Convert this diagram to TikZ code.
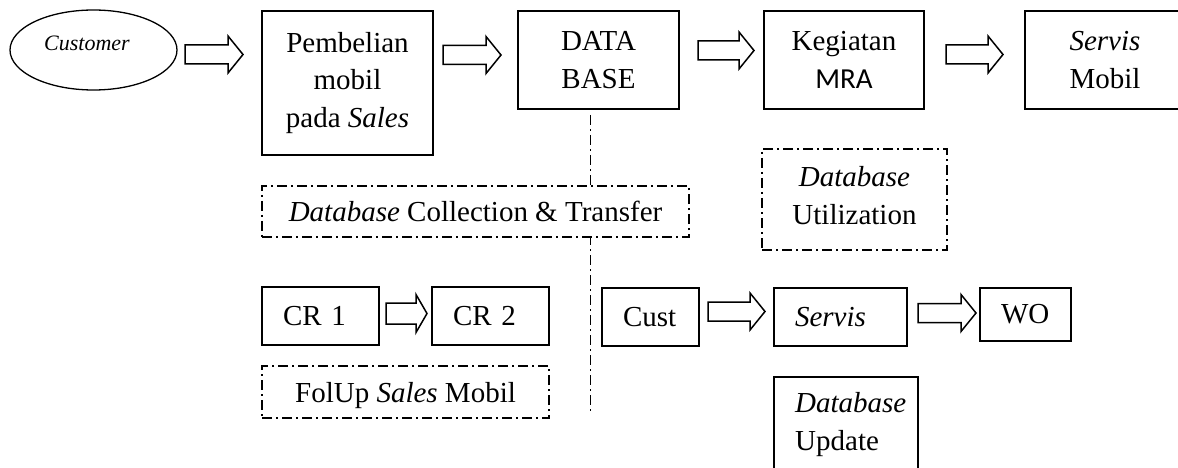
\documentclass[tikz,border=0pt]{standalone}
\usepackage{fontspec}
\setmainfont{Liberation Serif}
\newfontfamily\carlito{Carlito}
\usetikzlibrary{calc,shapes.geometric}

\newcommand\bodyfont{\fontsize{29}{37.5}\selectfont}
\newcommand\arrbody{9.5}
\newcommand\arrhead{18.5}
\newcommand\arrtip{15}

\tikzset{
  box/.style={draw, line width=1.6pt, inner sep=0pt, font=\bodyfont},
  lbox/.style={box, align=left, inner xsep=21pt},
  ddbox/.style={draw, fill=white, line width=1.4pt, inner sep=0pt, font=\bodyfont,
    dash pattern=on 10pt off 4pt on 2pt off 4pt},
  ddline/.style={line width=1.4pt, dash pattern=on 10pt off 4pt on 2pt off 4pt},
  short arrow/.code={\renewcommand\arrbody{10.5}\renewcommand\arrhead{19}\renewcommand\arrtip{11}},
  blockarrow/.style={draw, line width=1.5pt, line join=miter,
    to path={let \p1=(\tikztostart), \p2=(\tikztotarget) in
      (\x1,\y1+\arrbody pt) -- (\x2-\arrtip pt,\y1+\arrbody pt)
      -- (\x2-\arrtip pt,\y1+\arrhead pt) -- (\x2,\y1)
      -- (\x2-\arrtip pt,\y1-\arrhead pt) -- (\x2-\arrtip pt,\y1-\arrbody pt)
      -- (\x1,\y1-\arrbody pt) -- cycle}},
}

\begin{document}
\begin{tikzpicture}[x=1pt,y=-1pt]
\useasboundingbox (0,0) rectangle (1178,468);
\clip (0,0) rectangle (1178,468);

% top row
\node[ellipse, draw, line width=1.3pt, minimum width=167, minimum height=80, inner sep=0pt] (cust) at (93.5,50) {};
\node[font=\fontsize{22}{26}\selectfont\itshape] (custtext) at (87,43.5) {Customer};
\node[box, minimum width=171, minimum height=144, align=center] (pem) at (347.5,83) {Pembelian\\mobil\\pada \textit{Sales}};
\node[box, minimum width=161, minimum height=98, align=center] (db) at (598.5,60) {DATA\\BASE};
\node[box, minimum width=160, minimum height=98, align=center] (keg) at (844,60) {Kegiatan\\{\carlito MRA}};
\node[box, minimum width=160, minimum height=98, align=center] (srvm) at (1105,60) {\textit{Servis}\\Mobil};

% link down from the database
\coordinate (dbtap) at (590.5,115);
\coordinate (dbend) at (590.5,414);
\draw[ddline] (dbtap) -- (dbend);

% stage labels
\node[ddbox, minimum width=427, minimum height=51] (coll) at (475.5,211.5) {\textit{Database} Collection \& Transfer};
\node[ddbox, minimum width=185, minimum height=101, align=center, text depth=8pt] (util) at (854.5,199.5) {\textit{Database}\\Utilization};
\node[ddbox, minimum width=287, minimum height=52, text depth=0pt] (folup) at (405.5,392) {FolUp \textit{Sales} Mobil};

% lower rows
\node[lbox, minimum height=58, text width=75] (cr1) at (320.5,316) {CR 1};
\node[lbox, minimum height=58, text width=75] (cr2) at (490.5,316) {CR 2};
\node[lbox, minimum height=58, text width=55] (cst) at (650.5,317) {Cust};
\node[lbox, minimum height=58, text width=91] (srv) at (840.5,317) {\textit{Servis}};
\node[lbox, minimum height=53, text width=49] (wo) at (1025.5,314.5) {WO};
\node[box, anchor=north, minimum width=144, minimum height=120] (upd) at (846,376) {};
\node[anchor=north west, inner sep=0pt, font=\bodyfont, align=left] (updtext) at (795,392.5) {\textit{Database}\\Update};

% block arrows
\coordinate (a1s) at (185,54.5);   \coordinate (a1e) at (243,54.5);
\coordinate (a2s) at (443,55);     \coordinate (a2e) at (501,55);
\coordinate (a3s) at (698,50.5);   \coordinate (a3e) at (754,50.5);
\coordinate (a4s) at (946,54.5);   \coordinate (a4e) at (1003,54.5);
\coordinate (a5s) at (386,313.5);  \coordinate (a5e) at (427,313.5);
\coordinate (a6s) at (708,311.5);  \coordinate (a6e) at (765,311.5);
\coordinate (a7s) at (918,313);    \coordinate (a7e) at (976,313);
\draw[blockarrow] (a1s) to (a1e);
\draw[blockarrow] (a2s) to (a2e);
\draw[blockarrow] (a3s) to (a3e);
\draw[blockarrow] (a4s) to (a4e);
\draw[blockarrow, short arrow] (a5s) to (a5e);
\draw[blockarrow] (a6s) to (a6e);
\draw[blockarrow] (a7s) to (a7e);
\end{tikzpicture}
\end{document}
